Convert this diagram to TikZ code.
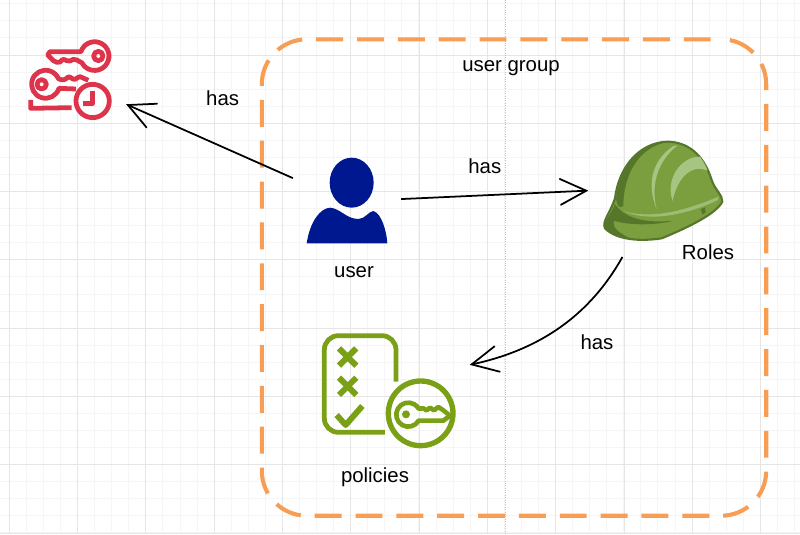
\documentclass[tikz,border=0pt]{standalone}
\usepackage{fontspec}
\usepackage{xcolor}
\usepackage{tikz}
\usetikzlibrary{arrows.meta, positioning}
\setmainfont{Liberation Sans}
\definecolor{gridminor}{HTML}{F5F5F5}
\definecolor{gridmajor}{HTML}{E6E6E6}
\definecolor{groupline}{HTML}{F79D54}
\definecolor{keyred}{HTML}{DD344C}
\definecolor{userblue}{HTML}{00188F}
\definecolor{policygreen}{HTML}{7AA116}
\definecolor{hatgreen}{HTML}{7B9F3E}
\definecolor{hatdark}{HTML}{55762B}
\definecolor{hatlight}{HTML}{A6C583}
\pgfarrowsdeclare{vee}{vee}{\pgfarrowsleftextend{-1pt}\pgfarrowsrightextend{0.5pt}}{
  \pgfsetroundcap
  \pgfpathmoveto{\pgfpoint{-18.5pt}{9.2pt}}
  \pgfpathlineto{\pgfpointorigin}
  \pgfpathlineto{\pgfpoint{-18.5pt}{-9.2pt}}
  \pgfusepathqstroke
}

\begin{document}
\begin{tikzpicture}[
  x=0.025cm, y=-0.025cm,
  lbl/.style={font=\fontsize{14.5}{17}\selectfont, inner sep=0pt},
  icon/.style={inner sep=0pt},
  groupbox/.style={draw=groupline, line width=2.9pt, rounded corners=32pt,
                   dash pattern=on 19.15pt off 9.9pt, dash phase=21.6pt,
                   minimum width=358.7pt, minimum height=338.8pt},
  arr/.style={-vee, line width=1.25pt},
  redline/.style={draw=keyred, line width=3.4pt, line join=round},
  greenline/.style={draw=policygreen, line width=3.4pt, line join=round}
]
\useasboundingbox (0,0) rectangle (800,534);
% grid
\foreach \i in {0,...,46} \draw[gridminor, line width=0.7pt] ({9.3+17.07*\i},0) -- ({9.3+17.07*\i},534);
\foreach \i in {0,...,31} \draw[gridminor, line width=0.7pt] (0,{3.8+17.07*\i}) -- (800,{3.8+17.07*\i});
\foreach \i in {0,...,11} \draw[gridmajor, line width=0.7pt] ({9.3+68.3*\i},0) -- ({9.3+68.3*\i},534);
\foreach \i in {0,...,7} \draw[gridmajor, line width=0.7pt] (0,{55+68.3*\i}) -- (800,{55+68.3*\i});
\draw[gray!50, line width=0.7pt, densely dotted] (505.7,0) -- (505.7,534);

\node[groupbox] (group) at (514,277.5) {};
\node[lbl] (grouplabel) at (511,68) {user group};

% invisible boxes, the connectors end on them
\node[icon, minimum width=82.5pt, minimum height=60pt] (keys) at (69,80) {};
\node[icon, minimum width=76.6pt, minimum height=61pt] (user) at (347,200) {};
\node[icon, minimum width=107.7pt, minimum height=92pt] (hat) at (663,192) {};
\node[icon, minimum width=116.2pt, minimum height=72pt] (policy) at (389,385) {};

% keys
\begin{scope}[shift={(0,20)}, scale=0.3333]
  \draw[redline] (150,95) -- (243,95) arc[start angle=198, end angle=512, radius=43]
    .. controls (232,122) and (228,116) .. (220,118) .. controls (212,120) and (208,128) .. (200,122)
    .. controls (192,116) and (186,118) .. (180,126) .. controls (174,132) and (168,124) .. (160,122) -- (143,105) -- cycle;
  \draw[redline] (295,108) circle[radius=14];
  \draw[redline] (228,207) -- (177,205) arc[start angle=17, end angle=337, radius=42]
    .. controls (188,182) and (196,180) .. (203,172) .. controls (210,166) and (216,180) .. (225,178)
    .. controls (232,176) and (238,166) .. (245,172) -- (265,181);
  \draw[redline] (125,193) circle[radius=14];
  \draw[redline] (92,240) -- (92,265) -- (215,263);
  \draw[redline] (278,243) circle[radius=50];
  \draw[redline] (278,212) -- (278,250) -- (250,250);
\end{scope}

% user
\begin{scope}[shift={(290,145)}, scale=0.3333]
  \fill[userblue] (185,113) ellipse[x radius=66, y radius=75];
  \fill[userblue] (50,295) .. controls (60,230) and (90,190) .. (120,188)
    .. controls (150,190) and (170,222) .. (205,222)
    .. controls (225,222) and (235,200) .. (250,198)
    .. controls (275,205) and (290,260) .. (292,295) -- cycle;
\end{scope}

% hat
\begin{scope}[shift={(590,130)}, scale=0.3333]
  \fill[hatgreen, draw=hatdark, line width=1.5pt] (230,35)
    .. controls (290,35) and (340,70) .. (365,150)
    .. controls (375,180) and (398,195) .. (397,215)
    .. controls (380,250) and (300,290) .. (215,325)
    .. controls (150,335) and (80,330) .. (45,295)
    .. controls (35,275) and (60,250) .. (75,205)
    .. controls (85,120) and (140,40) .. (230,35) -- cycle;
  \fill[hatdark] (232,36) .. controls (150,50) and (100,130) .. (100,228)
    .. controls (88,238) and (80,225) .. (78,205)
    .. controls (90,110) and (150,40) .. (232,36) -- cycle;
  \fill[hatdark] (75,222) .. controls (65,250) and (45,270) .. (42,288)
    .. controls (60,312) and (85,322) .. (120,325)
    .. controls (90,310) and (65,295) .. (72,272)
    .. controls (110,285) and (190,288) .. (250,272)
    .. controls (190,278) and (110,275) .. (75,222) -- cycle;
  \fill[hatlight!80!hatgreen] (100,243) .. controls (180,268) and (280,245) .. (385,200)
    .. controls (385,208) and (385,210) .. (380,212)
    .. controls (300,250) and (180,280) .. (100,243) -- cycle;
  \fill[hatlight] (250,48) .. controls (195,85) and (165,150) .. (200,238)
    .. controls (182,170) and (200,95) .. (262,47) -- cycle;
  \fill[hatlight] (248,213) .. controls (225,150) and (270,80) .. (330,80)
    .. controls (340,95) and (350,110) .. (352,122)
    .. controls (300,100) and (260,150) .. (248,213) -- cycle;
  \fill[hatdark] (332,238) -- (345,232) -- (347,248) -- (337,254) -- cycle;
\end{scope}

% policies
\begin{scope}[shift={(310,325)}, scale=0.3333]
  \draw[greenline, rounded corners=10pt] (258,170) -- (258,32) -- (43,32) -- (43,322) -- (225,322);
  \draw[greenline, line width=4.2pt] (87,70) -- (139,122) (139,70) -- (87,122);
  \draw[greenline, line width=4.2pt] (87,158) -- (139,210) (139,158) -- (87,210);
  \draw[greenline, line width=4.2pt] (80,270) -- (107,300) -- (157,243);
  \draw[greenline, line width=3.8pt] (332,265) circle[radius=97];
  \draw[greenline, line width=3.3pt] (400,287) -- (326,287) arc[start angle=30, end angle=330, radius=36]
    -- (340,250) -- (350,256) -- (360,248) -- (372,256) -- (385,246) -- (400,256) -- (420,272) -- cycle;
  \fill[policygreen] (288,268) circle[radius=12];
\end{scope}

\node[lbl] (userlabel) at (354,272) {user};
\node[lbl] (hatlabel) at (708,252) {Roles};
\node[lbl] (policylabel) at (375,477) {policies};

\draw[arr] (user.158) -- node[lbl, pos=.43, xshift=0.7pt, yshift=34.7pt] (haskeys) {has} (keys.337);
\draw[arr] (user.1) -- node[lbl, pos=.45, yshift=20.6pt] (hashat) {has} (hat.179);
\draw[arr] (hat.238) .. controls (590,315) and (540,350) .. node[lbl, pos=.5, xshift=26pt, yshift=-11pt] (haspolicy) {has} (policy.14);
\end{tikzpicture}
\end{document}
